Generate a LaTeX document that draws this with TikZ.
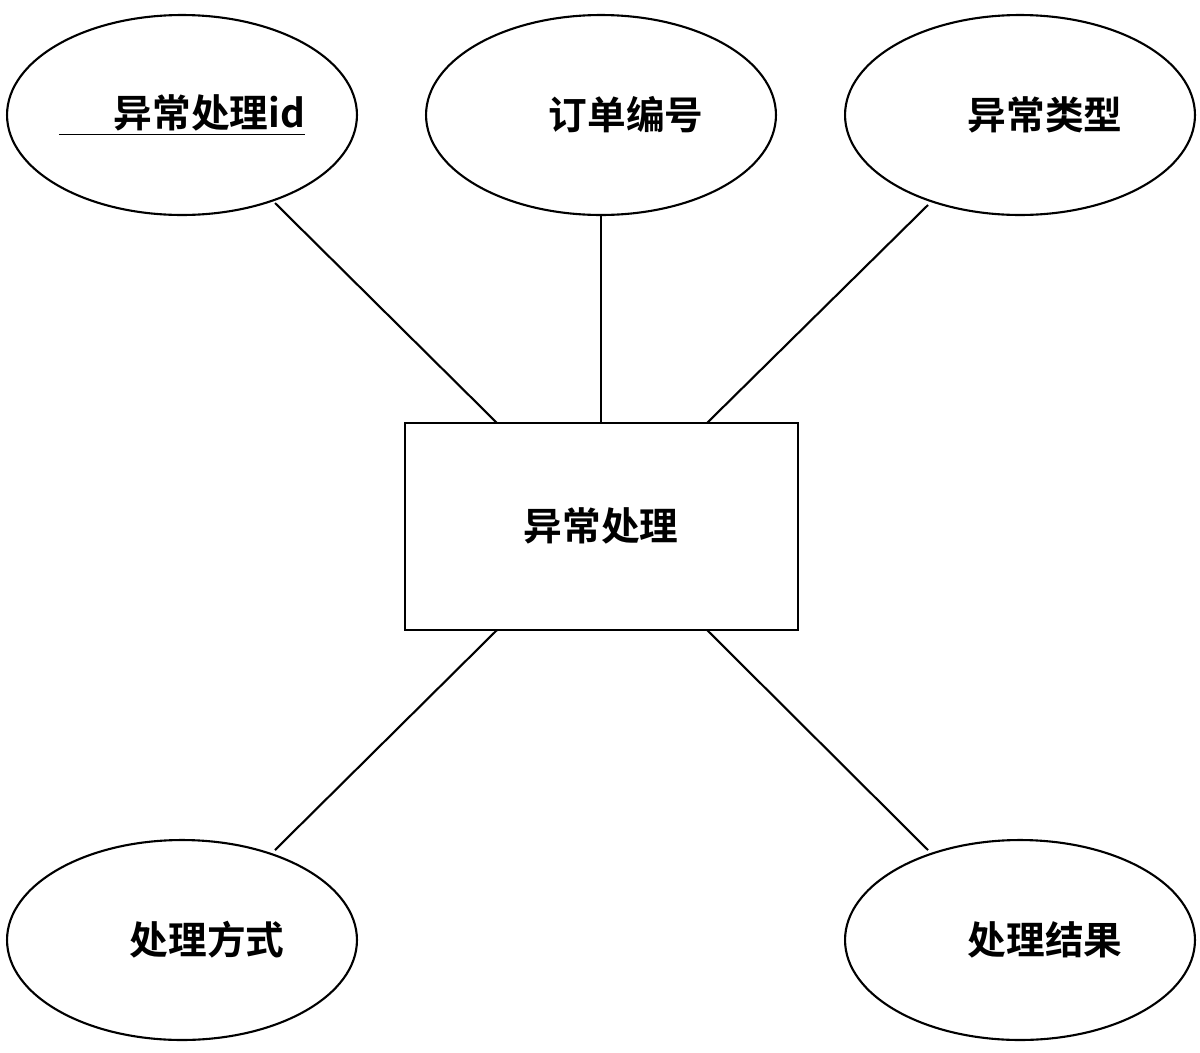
\documentclass[tikz,border=0pt]{standalone}
\usepackage{fontspec}
\newfontfamily\cjk{Noto Sans CJK SC}[BoldFont={Noto Sans CJK SC Bold}]
\usetikzlibrary{shapes.geometric}
\begin{document}
\begin{tikzpicture}[x=0.02cm,y=-0.02cm,
 attr/.style={ellipse,draw,line width=1.2pt,minimum width=7cm,minimum height=4cm,inner sep=0pt},
 lbl/.style={font=\cjk\bfseries\fontsize{22}{26}\selectfont},
 ln/.style={line width=1.2pt}]
\useasboundingbox (0,0) rectangle (1200,1052);
\node[attr] (a1) at (182,115) {};
\node[attr] (a2) at (601,115) {};
\node[attr] (a3) at (1020,115) {};
\node[attr] (a4) at (182,940) {};
\node[attr] (a5) at (1020,940) {};
\node[draw,line width=1.2pt,minimum width=7.86cm,minimum height=4.14cm] (r) at (601.5,526.5) {};
\node[lbl] (t1) at (182,115) {\underline{\hspace{1.1cm}异常处理id}};
\node[lbl] (t2) at (626,115) {订单编号};
\node[lbl] (t3) at (1045,115) {异常类型};
\node[lbl] (t4) at (207,940) {处理方式};
\node[lbl] (t5) at (1045,940) {处理结果};
\node[lbl] (t0) at (601,526) {异常处理};
\coordinate (p1) at (497,423); \coordinate (p2) at (601,423); \coordinate (p3) at (707,423);
\coordinate (p4) at (497,630); \coordinate (p5) at (707,630);
\coordinate (q1) at (275,203); \coordinate (q2) at (601,216); \coordinate (q3) at (928,205);
\coordinate (q4) at (275,850); \coordinate (q5) at (928,850);
\draw[ln] (q1)--(p1); \draw[ln] (q2)--(p2); \draw[ln] (q3)--(p3);
\draw[ln] (p4)--(q4); \draw[ln] (p5)--(q5);
\end{tikzpicture}
\end{document}
